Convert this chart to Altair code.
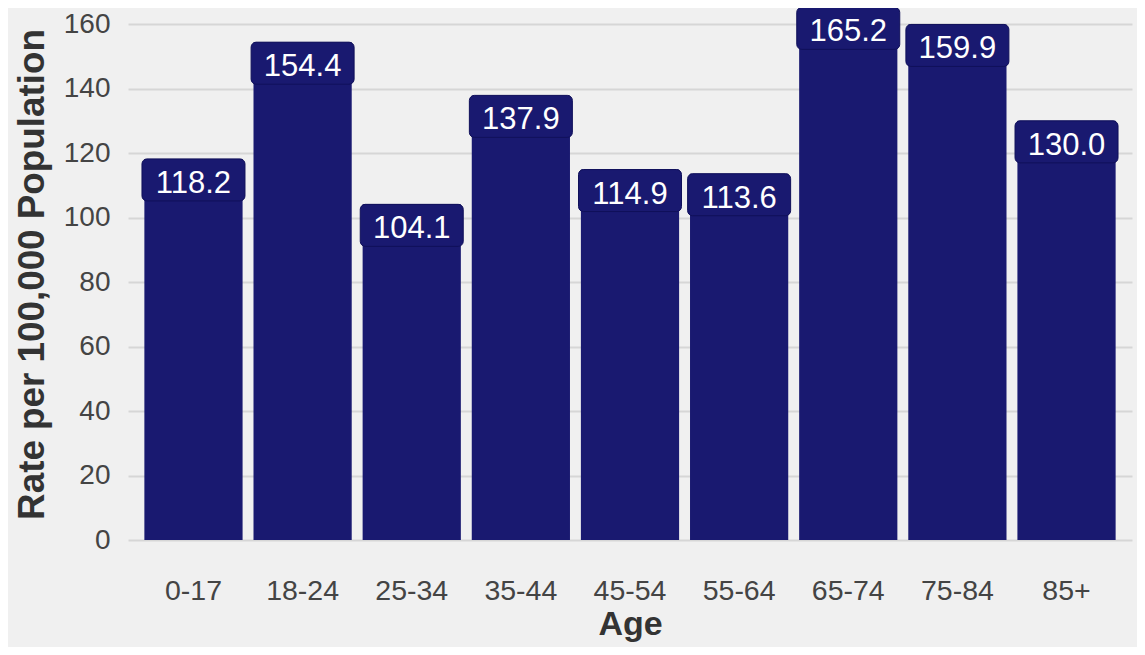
import altair as alt
import pandas as pd

ages = ["0-17", "18-24", "25-34", "35-44", "45-54", "55-64", "65-74", "75-84", "85+"]
rates = [118.2, 154.4, 104.1, 137.9, 114.9, 113.6, 165.2, 159.9, 130.0]

df = pd.DataFrame({"Age": ages, "Rate": rates})
df["label"] = [f"{v:.1f}" for v in rates]

BAR = "#191970"
FONT = "Liberation Sans"

x_enc = alt.X(
    "Age:N",
    sort=ages,
    scale=alt.Scale(paddingInner=0.1, paddingOuter=0.15),
    axis=alt.Axis(
        title="Age", labelAngle=0, ticks=False, domain=False, grid=False,
        labelFontSize=28.5, labelPadding=36, labelColor="#444444", labelFont=FONT,
        titleFontSize=34, titleFontWeight="bold", titleColor="#333333", titleFont=FONT,
        titlePadding=3,
    ),
)
y_scale = alt.Scale(domain=[0, 165], nice=False)

bars = alt.Chart(df).mark_bar(color=BAR).encode(
    x=x_enc,
    y=alt.Y(
        "Rate:Q",
        scale=y_scale,
        axis=alt.Axis(
            title="Rate per 100,000 Population", values=[0, 20, 40, 60, 80, 100, 120, 140, 160],
            ticks=False, domain=False, gridColor="#d6d6d6", gridWidth=2,
            labelFontSize=28, labelPadding=18, labelColor="#444444", labelFont=FONT,
            titleFontSize=36.8, titleFontWeight="bold", titleColor="#333333", titleFont=FONT,
            titlePadding=12,
        ),
    ),
)

boxes = alt.Chart(df).transform_calculate(
    lo="datum.Rate - 13.03"
).mark_bar(color=BAR, size=103, cornerRadius=5, stroke="#10105a", strokeWidth=1).encode(
    x=alt.X("Age:N", sort=ages),
    y=alt.Y("Rate:Q", scale=y_scale),
    y2="lo:Q",
)

texts = alt.Chart(df).mark_text(
    color="white", fontSize=31, font=FONT, baseline="middle", dy=25
).encode(
    x=alt.X("Age:N", sort=ages),
    y=alt.Y("Rate:Q", scale=y_scale),
    text="label:N",
)

chart = (
    alt.layer(bars, boxes, texts)
    .properties(
        width=1004,
        height=532,
        background="#f0f0f0",
        padding={"left": 120, "top": 0, "right": 5, "bottom": 107},
        autosize=alt.AutoSizeParams(type="none"),
    )
    .configure_view(stroke=None, fill="#f0f0f0")
)

chart.save("out.html", embed_options={"renderer": "svg", "actions": False})
